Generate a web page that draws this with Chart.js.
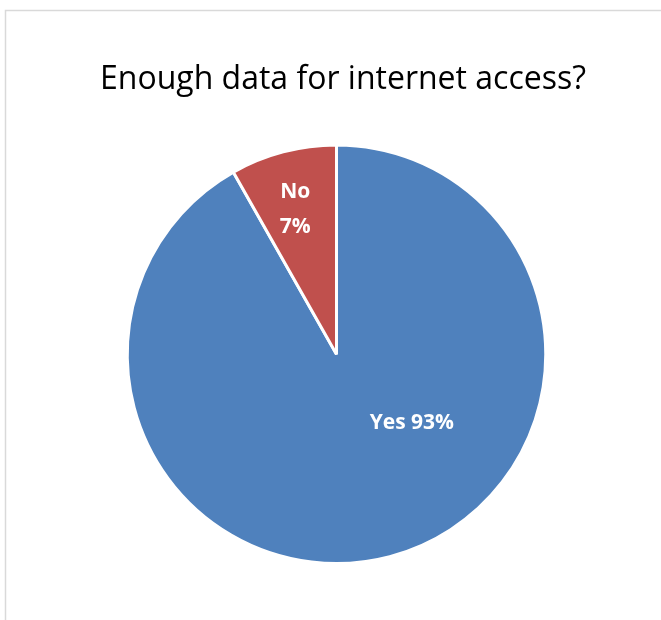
<!DOCTYPE html>
<html>
<head>
<meta charset="utf-8">
<script src="https://cdn.jsdelivr.net/npm/chart.js@4/dist/chart.umd.min.js"></script>
<style>
html,body{margin:0;padding:0;background:#fff;}
#wrap{position:relative;width:661px;height:620px;}
</style>
</head>
<body>
<div id="wrap"><canvas id="c" width="661" height="620"></canvas></div>
<script>
const chartTitle = 'Enough data for internet access?';
const categories = ['Yes', 'No'];
const values = [91.8, 8.2];
const percentLabels = ['93%', '7%'];
const colors = ['#4F81BD', '#C0504D'];

const framePlugin = {
  id: 'frame',
  beforeDraw(chart) {
    const ctx = chart.ctx;
    ctx.save();
    ctx.fillStyle = '#ffffff';
    ctx.fillRect(0, 0, chart.width, chart.height);
    ctx.strokeStyle = '#d9d9d9';
    ctx.lineWidth = 1.5;
    ctx.beginPath();
    ctx.moveTo(5.5, chart.height);
    ctx.lineTo(5.5, 10.5);
    ctx.lineTo(chart.width, 10.5);
    ctx.stroke();
    // title
    ctx.fillStyle = '#000000';
    ctx.font = '32px "Open Sans", Lato, sans-serif';
    ctx.textAlign = 'center';
    ctx.textBaseline = 'alphabetic';
    ctx.fillText(chartTitle, 343, 89);
    ctx.restore();
  }
};

const labelPlugin = {
  id: 'sliceLabels',
  afterDatasetsDraw(chart) {
    const ctx = chart.ctx;
    const meta = chart.getDatasetMeta(0);
    ctx.save();
    ctx.fillStyle = '#ffffff';
    ctx.font = 'bold 21px "Open Sans", Lato, sans-serif';
    ctx.textAlign = 'center';
    ctx.textBaseline = 'middle';
    meta.data.forEach((arc, i) => {
      const p = arc.getProps(['x', 'y', 'startAngle', 'endAngle', 'outerRadius']);
      const r = p.outerRadius;
      if (i === 0) {
        const x = p.x + 0.36 * r;
        const y = p.y + 0.33 * r;
        ctx.fillText(categories[i] + ' ' + percentLabels[i], x, y);
      } else {
        const mid = (p.startAngle + p.endAngle) / 2 - 0.02;
        const x = p.x + Math.cos(mid) * 0.72 * r;
        const y = p.y + Math.sin(mid) * 0.72 * r;
        ctx.fillText(categories[i], x, y - 17);
        ctx.fillText(percentLabels[i], x, y + 18);
      }
    });
    ctx.restore();
  }
};

new Chart(document.getElementById('c'), {
  type: 'pie',
  data: {
    labels: categories,
    datasets: [{
      data: values,
      backgroundColor: colors,
      borderColor: '#ffffff',
      borderWidth: 3
    }]
  },
  options: {
    responsive: false,
    animation: false,
    layout: { padding: { left: 12, right: 0, top: 143.5, bottom: 55 } },
    plugins: {
      legend: { display: false },
      tooltip: { enabled: false },
      title: { display: false }
    }
  },
  plugins: [framePlugin, labelPlugin]
});
</script>
</body>
</html>
